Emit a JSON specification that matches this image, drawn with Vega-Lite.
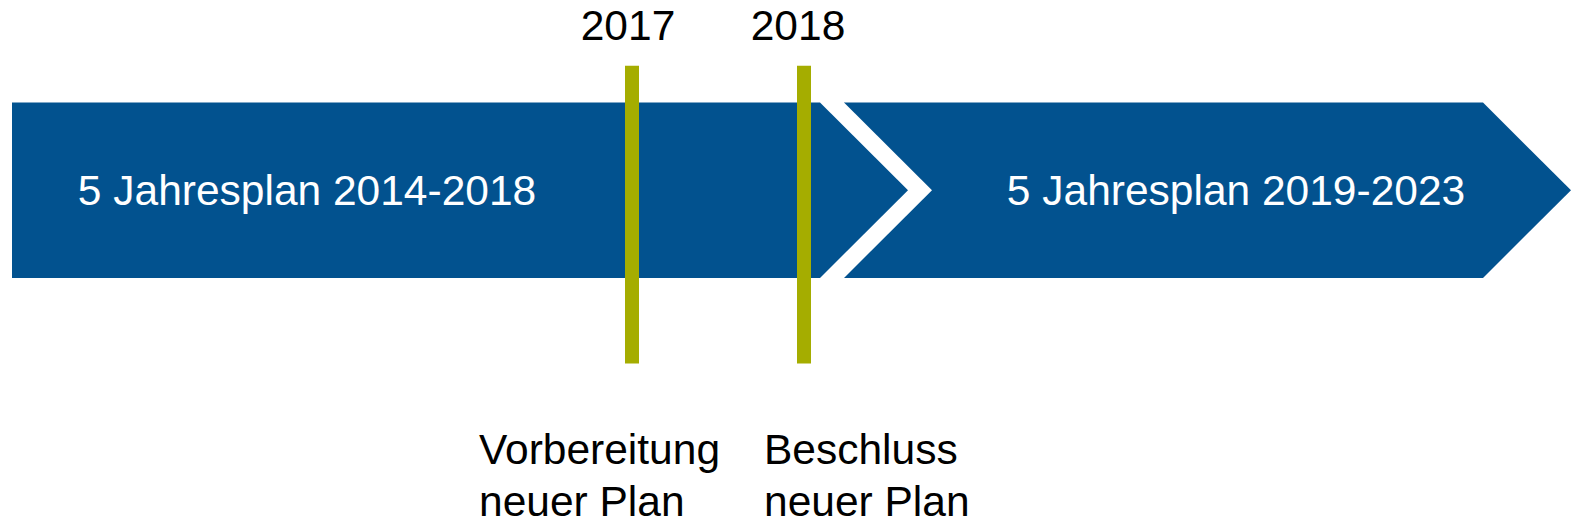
{
  "$schema": "https://vega.github.io/schema/vega-lite/v6.json",
  "width": 1571,
  "height": 525,
  "autosize": {"type": "fit", "contains": "padding"},
  "padding": 0,
  "background": "white",
  "config": {"view": {"stroke": null}},
  "datasets": {
    "shapes": [
      {"part": "plan1", "px": 12, "top": 103, "bottom": 279},
      {"part": "plan1", "px": 820, "top": 103, "bottom": 279},
      {"part": "plan1", "px": 908, "top": 191, "bottom": 191},
      {"part": "plan2", "px": 844, "top": 103, "bottom": 279},
      {"part": "plan2", "px": 1483, "top": 103, "bottom": 279},
      {"part": "plan2", "px": 1571, "top": 191, "bottom": 191},
      {"part": "notch", "px": 844, "top": 103, "bottom": 279},
      {"part": "notch", "px": 932, "top": 191, "bottom": 191}
    ],
    "markers": [
      {"year": "2017", "left": 625, "right": 639, "top": 66, "bottom": 365},
      {"year": "2018", "left": 797, "right": 811, "top": 66, "bottom": 365}
    ],
    "labels": [
      {"text": "2017", "px": 628, "py": 40, "kind": "year"},
      {"text": "2018", "px": 798, "py": 40, "kind": "year"},
      {"text": "5 Jahresplan 2014-2018", "px": 307, "py": 205.5, "kind": "plan"},
      {"text": "5 Jahresplan 2019-2023", "px": 1236, "py": 205.5, "kind": "plan"}
    ],
    "notes": [
      {"text": "Vorbereitung", "px": 479, "py": 465.5},
      {"text": "neuer Plan", "px": 479, "py": 518},
      {"text": "Beschluss", "px": 764, "py": 465.5},
      {"text": "neuer Plan", "px": 764, "py": 518}
    ]
  },
  "encoding": {
    "x": {"field": "px", "type": "quantitative", "scale": {"domain": [0, 1571], "nice": false, "zero": false}, "axis": null},
    "y": {"field": "top", "type": "quantitative", "scale": {"domain": [0, 525], "reverse": true, "nice": false, "zero": false}, "axis": null}
  },
  "layer": [
    {
      "data": {"name": "shapes"},
      "transform": [{"filter": "datum.part === 'plan2'"}],
      "mark": {"type": "area", "interpolate": "linear", "color": "#02528F"},
      "encoding": {
        "y": {"field": "top", "type": "quantitative", "stack": null},
        "y2": {"field": "bottom"}
      }
    },
    {
      "data": {"name": "shapes"},
      "transform": [{"filter": "datum.part === 'notch'"}],
      "mark": {"type": "area", "interpolate": "linear", "color": "#FFFFFF", "opacity": 1},
      "encoding": {
        "y": {"field": "top", "type": "quantitative", "stack": null},
        "y2": {"field": "bottom"}
      }
    },
    {
      "data": {"name": "shapes"},
      "transform": [{"filter": "datum.part === 'plan1'"}],
      "mark": {"type": "area", "interpolate": "linear", "color": "#02528F"},
      "encoding": {
        "y": {"field": "top", "type": "quantitative", "stack": null},
        "y2": {"field": "bottom"}
      }
    },
    {
      "data": {"name": "markers"},
      "mark": {"type": "rect", "color": "#A5AD00"},
      "encoding": {
        "x": {"field": "left", "type": "quantitative"},
        "x2": {"field": "right"},
        "y": {"field": "top", "type": "quantitative"},
        "y2": {"field": "bottom"}
      }
    },
    {
      "data": {"name": "labels"},
      "transform": [{"filter": "datum.kind === 'year'"}],
      "mark": {"type": "text", "align": "center", "baseline": "alphabetic", "font": "Liberation Sans", "fontSize": 42.5, "color": "#000000"},
      "encoding": {
        "y": {"field": "py", "type": "quantitative"},
        "text": {"field": "text"}
      }
    },
    {
      "data": {"name": "labels"},
      "transform": [{"filter": "datum.kind === 'plan'"}],
      "mark": {"type": "text", "align": "center", "baseline": "alphabetic", "font": "Liberation Sans", "fontSize": 42.5, "color": "#FFFFFF"},
      "encoding": {
        "y": {"field": "py", "type": "quantitative"},
        "text": {"field": "text"}
      }
    },
    {
      "data": {"name": "notes"},
      "mark": {"type": "text", "align": "left", "baseline": "alphabetic", "font": "Liberation Sans", "fontSize": 42.5, "color": "#000000"},
      "encoding": {
        "y": {"field": "py", "type": "quantitative"},
        "text": {"field": "text"}
      }
    }
  ]
}
